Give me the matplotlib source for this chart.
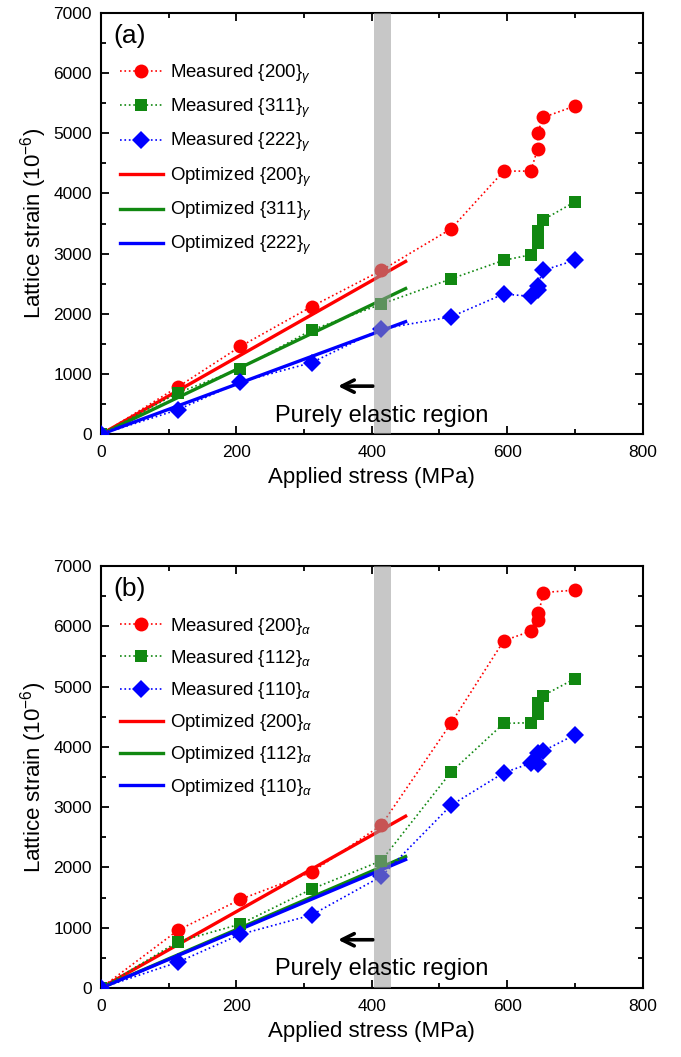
"""
Lattice strain vs applied stress for the austenite (a) and ferrite (b) peaks,
measured points plus optimized elastic fits.
"""

import matplotlib
matplotlib.use("Agg")
import matplotlib.pyplot as plt
from matplotlib.ticker import MultipleLocator

plt.rcParams["font.family"] = ["Liberation Sans", "DejaVu Sans"]
plt.rcParams["mathtext.fontset"] = "custom"
plt.rcParams["mathtext.rm"] = "Liberation Sans"
plt.rcParams["mathtext.it"] = "Liberation Sans:italic"

RED = "#ff0000"
GREEN = "#118811"
BLUE = "#0000ff"

# applied stress (MPa) for each measurement, in loading order
stress = [0, 114, 206, 311, 414, 517, 595, 635, 645, 645, 653, 700]

# panel (a): austenite
a_200 = [0, 790, 1460, 2120, 2720, 3410, 4370, 4370, 4740, 5000, 5260, 5450]
a_311 = [0, 690, 1090, 1730, 2160, 2580, 2890, 2980, 3170, 3370, 3560, 3860]
a_222 = [0, 410, 870, 1190, 1750, 1950, 2330, 2290, 2400, 2470, 2720, 2890]
a_labels = [r"{200}$_\gamma$", r"{311}$_\gamma$", r"{222}$_\gamma$"]

# panel (b): ferrite
b_200 = [0, 960, 1470, 1920, 2700, 4390, 5760, 5920, 6220, 6100, 6560, 6600]
b_112 = [0, 770, 1060, 1640, 2110, 3580, 4390, 4400, 4720, 4540, 4850, 5130]
b_110 = [0, 430, 890, 1210, 1850, 3030, 3570, 3730, 3900, 3710, 3930, 4200]
b_labels = [r"{200}$_\alpha$", r"{112}$_\alpha$", r"{110}$_\alpha$"]

# optimized elastic fits, end points
opt_x = [0, 450]
a_opt = [[0, 2870], [0, 2420], [0, 1870]]
b_opt = [[0, 2850], [0, 2180], [0, 2130]]

MARKERS = ["o", "s", "D"]
MSIZES = [10, 8.5, 9]
COLORS = [RED, GREEN, BLUE]


def draw_panel(ax, measured, fits, labels, tag):
    handles = []
    for vals, lab, c, m, ms in zip(measured, labels, COLORS, MARKERS, MSIZES):
        h, = ax.plot(stress, vals, linestyle=":", lw=1.2, color=c, marker=m,
                     markersize=ms, markeredgewidth=0, zorder=3,
                     label="Measured " + lab)
        handles.append(h)
    for fit, lab, c in zip(fits, labels, COLORS):
        h, = ax.plot(opt_x, fit, "-", lw=2.4, color=c, zorder=2,
                     label="Optimized " + lab)
        handles.append(h)

    ax.axvspan(403, 428, color="#9a9a9a", alpha=0.55, lw=0, zorder=4)

    ax.annotate("", xy=(346, 800), xytext=(406, 800),
                arrowprops=dict(arrowstyle="->", lw=2.6, color="black",
                                mutation_scale=22))
    ax.text(415, 210, "Purely elastic region", fontsize=17,
            ha="center", va="baseline", zorder=5)
    ax.text(18, 6620, tag, fontsize=19, ha="left", va="center")

    ax.set_xlim(0, 800)
    ax.set_ylim(0, 7000)
    ax.xaxis.set_major_locator(MultipleLocator(200))
    ax.xaxis.set_minor_locator(MultipleLocator(100))
    ax.yaxis.set_major_locator(MultipleLocator(1000))
    ax.yaxis.set_minor_locator(MultipleLocator(500))
    ax.tick_params(which="both", direction="in", top=True, right=True,
                   labelsize=12.5, width=1.3)
    ax.tick_params(which="major", length=6)
    ax.tick_params(which="minor", length=3.5)
    ax.tick_params(axis="x", which="major", pad=8)
    ax.tick_params(axis="y", which="major", pad=6.5)
    for s in ax.spines.values():
        s.set_linewidth(1.5)
    ax.set_xlabel("Applied stress (MPa)", fontsize=16, labelpad=5)
    ax.set_ylabel(r"Lattice strain (10$^{-6}$)", fontsize=16, labelpad=3)

    ax.legend(handles=handles, loc="upper left", bbox_to_anchor=(0.035, 0.882),
              frameon=False, fontsize=13.4, handlelength=2.3,
              handletextpad=0.38, labelspacing=0.6, borderpad=0,
              borderaxespad=0)


fig = plt.figure(figsize=(6.81, 10.57), dpi=100)
ax_a = fig.add_axes([0.1483, 0.5891, 0.7952, 0.3989])
ax_b = fig.add_axes([0.1483, 0.0653, 0.7952, 0.3992])

draw_panel(ax_a, [a_200, a_311, a_222], a_opt, a_labels, "(a)")
draw_panel(ax_b, [b_200, b_112, b_110], b_opt, b_labels, "(b)")

fig.savefig("out.png", dpi=100)
